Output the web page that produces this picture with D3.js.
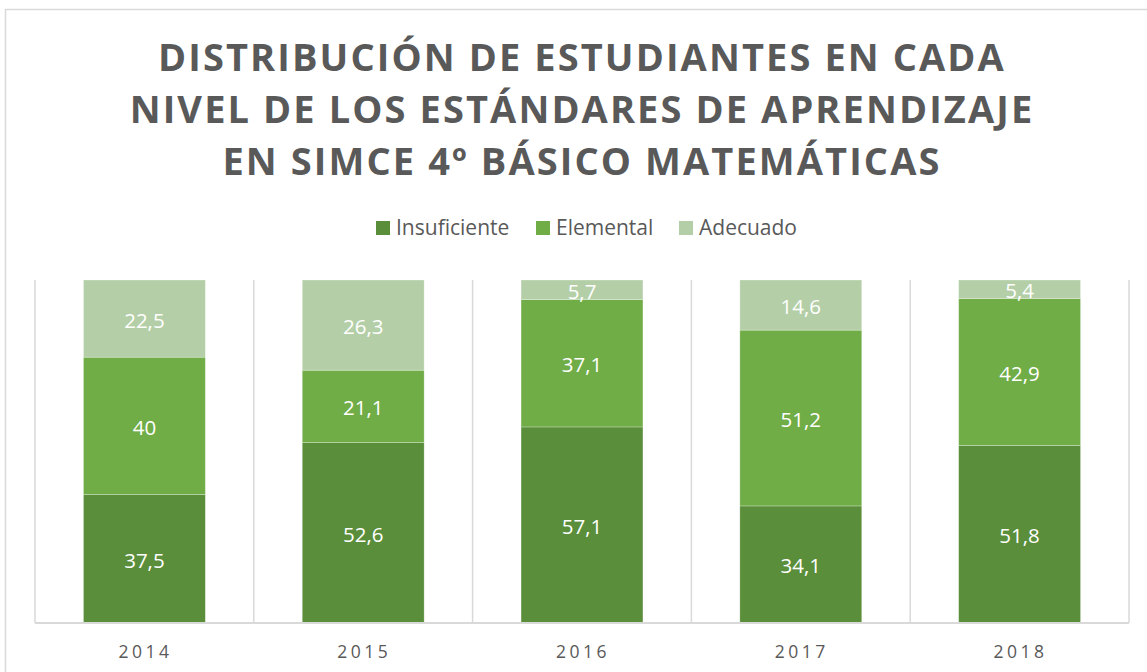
<!DOCTYPE html>
<html>
<head>
<meta charset="utf-8">
<script src="https://cdn.jsdelivr.net/npm/d3@7"></script>
<style>
  html, body { margin: 0; padding: 0; background: #fff; }
  svg { display: block; }
</style>
</head>
<body>
<svg id="chart" width="1147" height="672"></svg>
<script>
const categories = ["2014", "2015", "2016", "2017", "2018"];
const seriesNames = ["Insuficiente", "Elemental", "Adecuado"];
const insuficiente = [37.5, 52.6, 57.1, 34.1, 51.8];
const elemental = [40, 21.1, 37.1, 51.2, 42.9];
const adecuado = [22.5, 26.3, 5.7, 14.6, 5.4];
const colors = ["#5a8e3a", "#70ad47", "#b4cfa7"];
const titleLines = ["DISTRIBUCIÓN DE ESTUDIANTES EN CADA", "NIVEL DE LOS ESTÁNDARES DE APRENDIZAJE", "EN SIMCE 4º BÁSICO MATEMÁTICAS"];

const svg = d3.select("#chart");
const W = 1147, H = 672;
const font = "'Open Sans', 'Noto Sans', sans-serif";

// chart frame
svg.append("rect").attr("x", 5.5).attr("y", 9.5).attr("width", W + 10).attr("height", H + 10)
  .attr("fill", "#fff").attr("stroke", "#d9d9d9").attr("stroke-width", 1.5);

// title
const title = svg.append("text").attr("text-anchor", "middle")
  .attr("font-family", font).attr("font-weight", 700).attr("font-size", 38)
  .attr("fill", "#595959").attr("letter-spacing", 2.1);
titleLines.forEach((t, i) => {
  title.append("tspan").attr("x", 582).attr("y", 71 + i * 52).text(t);
});

// data
const table = categories.map((c, i) => ({
  cat: c,
  Insuficiente: insuficiente[i],
  Elemental: elemental[i],
  Adecuado: adecuado[i]
}));
const stack = d3.stack().keys(seriesNames).offset(d3.stackOffsetExpand);
const layers = stack(table);

const plot = { left: 35, right: 1129, top: 280, bottom: 623 };
const x = d3.scaleBand().domain(categories).range([plot.left, plot.right]).paddingInner(0.443).paddingOuter(0.2215);
const xGrid = d3.scaleBand().domain(categories).range([plot.left, plot.right]).padding(0);
const y = d3.scaleLinear().domain([0, 1]).range([plot.bottom, plot.top]);

// vertical gridlines at category boundaries
const bounds = categories.map(c => xGrid(c)).concat([plot.right]);
svg.append("g").selectAll("line").data(bounds).join("line")
  .attr("x1", d => d).attr("x2", d => d)
  .attr("y1", plot.top).attr("y2", plot.bottom)
  .attr("stroke", "#d9d9d9").attr("stroke-width", 1.5);

// bars
const g = svg.append("g");
layers.forEach((layer, li) => {
  g.append("g").selectAll("rect").data(layer).join("rect")
    .attr("x", d => x(d.data.cat))
    .attr("width", x.bandwidth())
    .attr("y", d => y(d[1]))
    .attr("height", d => y(d[0]) - y(d[1]))
    .attr("fill", colors[li])
    .attr("stroke", "rgba(255,255,255,0.35)").attr("stroke-width", 0.75);
});

// labels
layers.forEach((layer, li) => {
  const vals = [insuficiente, elemental, adecuado][li];
  g.append("g").selectAll("text").data(layer).join("text")
    .attr("x", d => x(d.data.cat) + x.bandwidth() / 2)
    .attr("y", d => (y(d[0]) + y(d[1])) / 2)
    .attr("dy", "0.44em")
    .attr("text-anchor", "middle")
    .attr("font-family", font).attr("font-size", 20.5)
    .attr("fill", "#fff")
    .text((d, i) => String(vals[i]).replace(".", ","));
});

// x axis
const xAxis = d3.axisBottom(xGrid).tickSize(0).tickPadding(0);
const ax = svg.append("g").attr("transform", `translate(0,${plot.bottom})`).call(xAxis);
ax.select(".domain").attr("stroke", "#d9d9d9").attr("stroke-width", 2)
  .attr("d", `M${plot.left},0H${plot.right}`);
ax.selectAll(".tick text")
  .attr("y", 35).attr("dy", 0)
  .attr("dx", 1)
  .attr("font-family", font).attr("font-size", 17.5)
  .attr("fill", "#595959").attr("letter-spacing", 3.5);

// legend
const legendItems = [
  { name: seriesNames[0], x: 376 },
  { name: seriesNames[1], x: 536 },
  { name: seriesNames[2], x: 679 }
];
const lg = svg.append("g");
legendItems.forEach((it, i) => {
  lg.append("rect").attr("x", it.x).attr("y", 221).attr("width", 14).attr("height", 14).attr("fill", colors[i]);
  lg.append("text").attr("x", it.x + 20).attr("y", 235)
    .attr("font-family", font).attr("font-size", 21).attr("fill", "#595959").text(it.name);
});
</script>
</body>
</html>
